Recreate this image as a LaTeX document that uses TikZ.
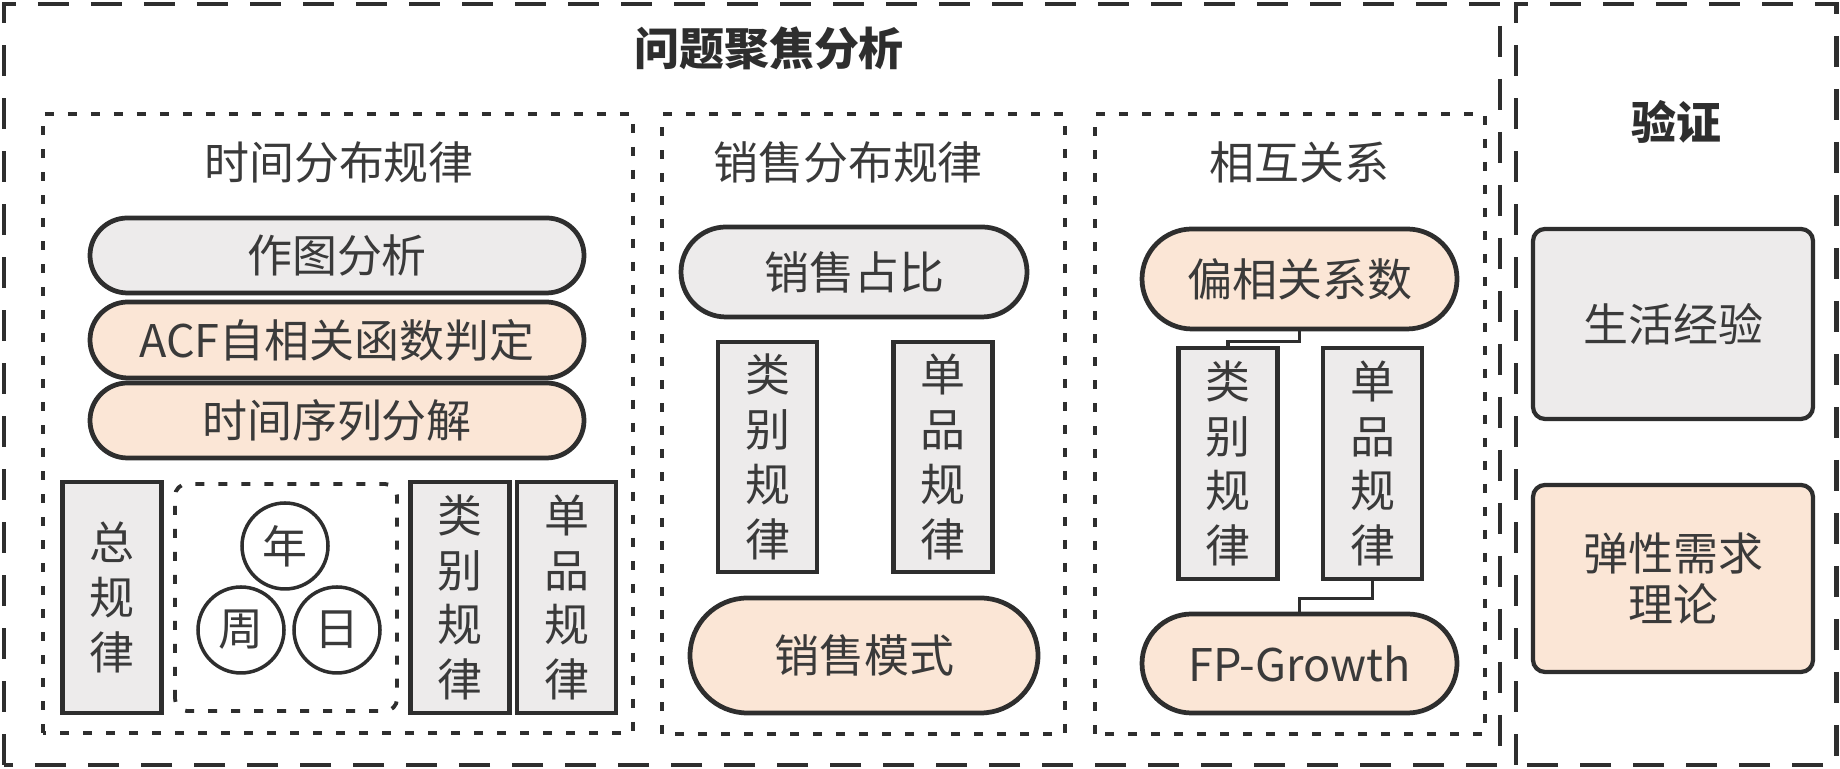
\documentclass[tikz,border=0pt]{standalone}
\usepackage{fontspec}
\setmainfont{Noto Sans CJK SC}
\usepackage{tikz}
\definecolor{inkc}{HTML}{2E2E2E}
\definecolor{textc}{HTML}{3A3A3A}
\definecolor{greyc}{HTML}{EDEBEB}
\definecolor{peachc}{HTML}{FBE6D6}

\begin{document}
\begin{tikzpicture}[
    every node/.style={text=textc, font=\fontsize{12.8pt}{15.6pt}\selectfont},
    head/.style={text=inkc, font=\bfseries\fontsize{12.8pt}{15.6pt}\selectfont},
    outer/.style={draw=inkc, line width=1.4pt, dash pattern=on 0.31cm off 0.22cm},
    zone/.style={draw=inkc, line width=1.1pt, dash pattern=on 0.09cm off 0.14cm},
    pill/.style={draw=inkc, line width=1.35pt, rounded corners=#1, minimum height=2*#1, inner sep=0pt},
    bar/.style={draw=inkc, line width=1.2pt, fill=greyc, minimum width=0.99cm, minimum height=2.31cm, align=center, inner sep=0pt},
    ring/.style={draw=inkc, line width=1pt, circle, fill=white, minimum size=0.86cm, inner sep=0pt},
    card/.style={draw=inkc, line width=1.2pt, rounded corners=0.12cm, minimum width=2.8cm, align=center},
    link/.style={draw=inkc, line width=0.9pt}
]
    \fill[white] (0,0) rectangle (18.4,7.69);
    \useasboundingbox (0,0) rectangle (18.4,7.69);

    \draw[outer] (0.04,0.04) rectangle (15.00,7.65);
    \draw[outer] (15.16,0.04) rectangle (18.36,7.65);
    \node[head] (focus) at (7.69,7.21) {问题聚焦分析};
    \node[head] (check) at (16.76,6.47) {验证};

    \draw[zone] (0.43,0.36) rectangle (6.33,6.55);
    \draw[zone] (6.62,0.35) rectangle (10.65,6.55);
    \draw[zone] (10.95,0.35) rectangle (14.85,6.55);
    \node[] (timeh) at (3.39,6.07) {时间分布规律};
    \node[] (saleh) at (8.48,6.07) {销售分布规律};
    \node[] (relh) at (12.99,6.07) {相互关系};

    \node[pill=0.375cm, fill=greyc, minimum width=4.94cm] (plot) at (3.37,5.135) {作图分析};
    \node[pill=0.38cm, fill=peachc, minimum width=4.94cm] (acf) at (3.37,4.29) {ACF自相关函数判定};
    \node[pill=0.375cm, fill=peachc, minimum width=4.94cm] (decomp) at (3.37,3.485) {时间序列分解};

    \node[bar] (total) at (1.12,1.715) {总\\规\\律};
    \draw[zone, rounded corners=0.12cm] (1.75,0.58) rectangle (3.97,2.85);
    \node[ring] (yr) at (2.85,2.23) {年};
    \node[ring] (wk) at (2.41,1.39) {周};
    \node[ring] (dy) at (3.37,1.39) {日};
    \node[bar] (sorta) at (4.60,1.715) {类\\别\\规\\律};
    \node[bar] (itema) at (5.665,1.715) {单\\品\\规\\律};

    \node[pill=0.45cm, fill=greyc, minimum width=3.46cm] (share) at (8.54,4.97) {销售占比};
    \node[bar, minimum height=2.30cm] (sortb) at (7.675,3.12) {类\\别\\规\\律};
    \node[bar, minimum height=2.30cm] (itemb) at (9.43,3.12) {单\\品\\规\\律};
    \node[pill=0.575cm, fill=peachc, minimum width=3.48cm] (mode) at (8.64,1.135) {销售模式};

    \node[pill=0.5cm, fill=peachc, minimum width=3.15cm] (coef) at (12.995,4.90) {偏相关系数};
    \node[bar] (sortc) at (12.28,3.055) {类\\别\\规\\律};
    \node[bar] (itemc) at (13.725,3.055) {单\\品\\规\\律};
    \node[pill=0.495cm, fill=peachc, minimum width=3.15cm] (fp) at (12.995,1.055) {FP-Growth};
    \draw[link] (coef.south) -- ++(0,-0.10) -| (sortc.north);
    \draw[link] (itemc.south) -- ++(0,-0.17) -| (fp.north);

    \node[card, fill=greyc, minimum height=1.90cm] (life) at (16.73,4.45) {生活经验};
    \node[card, fill=peachc, minimum height=1.87cm, font=\fontsize{12.8pt}{14.5pt}\selectfont] (elastic) at (16.73,1.905) {弹性需求\\理论};
\end{tikzpicture}
\end{document}
